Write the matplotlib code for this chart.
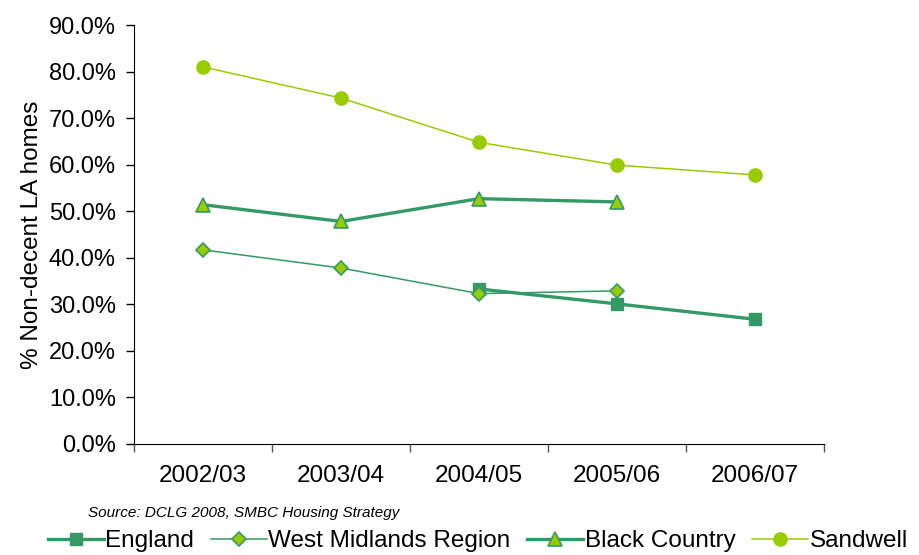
import matplotlib.pyplot as plt
from matplotlib.ticker import FixedLocator, PercentFormatter

plt.rcParams['font.family'] = ['Liberation Sans', 'DejaVu Sans']

years = ['2002/03', '2003/04', '2004/05', '2005/06', '2006/07']
england = [None, None, 33.3, 30.1, 26.8]
west_midlands = [41.7, 37.8, 32.3, 32.9, None]
black_country = [51.4, 47.8, 52.7, 52.0, None]
sandwell = [81.0, 74.3, 64.8, 59.9, 57.8]

dark = '#339966'
light = '#99cc00'

fig = plt.figure(figsize=(9.19, 5.55), dpi=100)
ax = fig.add_axes([134 / 919, 1 - 444 / 555, 690 / 919, 419 / 555])


def xy(vals):
	pts = [(i, v) for i, v in enumerate(vals) if v is not None]
	return [p[0] for p in pts], [p[1] for p in pts]


# thick lines first, thin ones on top like the original
x, y = xy(england)
ax.plot(x, y, color=dark, lw=2.4, marker='s', ms=9, mfc=dark, mec=dark, label='England')
x, y = xy(west_midlands)
ax.plot(x, y, color=dark, lw=1.1, marker='D', ms=7.5, mfc=light, mec=dark, mew=1.2,
	label='West Midlands Region')
x, y = xy(black_country)
ax.plot(x, y, color=dark, lw=2.4, marker='^', ms=10, mfc=light, mec=dark, mew=1.2,
	label='Black Country')
x, y = xy(sandwell)
ax.plot(x, y, color=light, lw=1.1, marker='o', ms=9.5, mfc=light, mec=light, label='Sandwell')

ax.set_xlim(-0.5, len(years) - 0.5)
ax.set_ylim(0, 90)
ax.set_yticks(range(0, 91, 10))
ax.yaxis.set_major_formatter(PercentFormatter(decimals=1))
ax.set_xticks(range(len(years)))
ax.set_xticklabels(years)
ax.xaxis.set_minor_locator(FixedLocator([i - 0.5 for i in range(len(years) + 1)]))
ax.tick_params(axis='x', which='major', length=0, pad=15, labelsize=17.5)
ax.tick_params(axis='x', which='minor', length=6, width=1, color='#555555')
ax.tick_params(axis='y', length=6, width=1, labelsize=17, pad=7)

for s in ['top', 'right']:
	ax.spines[s].set_visible(False)

ax.set_ylabel('% Non-decent LA homes', fontsize=17.5, labelpad=4)

fig.text(88 / 919, 1 - 513 / 555, 'Source: DCLG 2008, SMBC Housing Strategy', fontsize=11,
	style='italic', va='center')
fig.legend(loc='center', bbox_to_anchor=(0.52, 1 - 541 / 555), ncol=4, frameon=False,
	fontsize=17.5, handlelength=2.3, handletextpad=0.05, columnspacing=0.7)

plt.savefig('out.png', dpi=100)
plt.close()
